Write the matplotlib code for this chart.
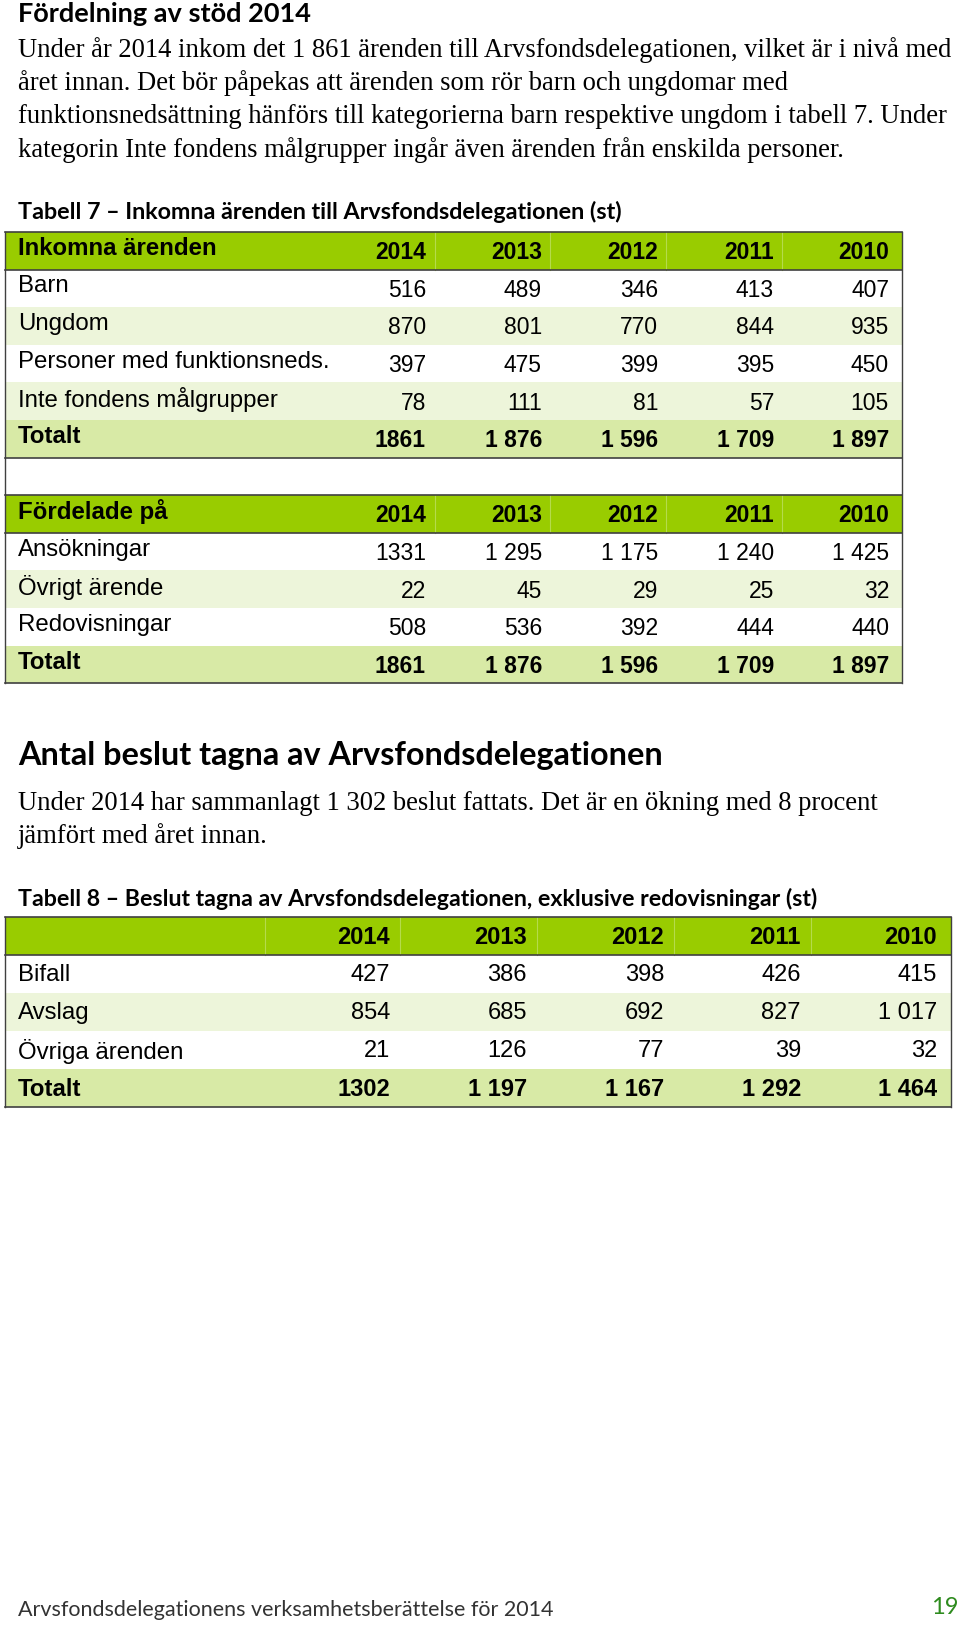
import matplotlib.pyplot as plt
from matplotlib.patches import Rectangle

# Texter
rubrik = 'Fördelning av stöd 2014'
brodtext1 = ['Under år 2014 inkom det 1 861 ärenden till Arvsfondsdelegationen, vilket är i nivå med',
             'året innan. Det bör påpekas att ärenden som rör barn och ungdomar med',
             'funktionsnedsättning hänförs till kategorierna barn respektive ungdom i tabell 7. Under',
             'kategorin Inte fondens målgrupper ingår även ärenden från enskilda personer.']
tabell7_rubrik = 'Tabell 7 – Inkomna ärenden till Arvsfondsdelegationen (st)'
rubrik2 = 'Antal beslut tagna av Arvsfondsdelegationen'
brodtext2 = ['Under 2014 har sammanlagt 1 302 beslut fattats. Det är en ökning med 8 procent',
             'jämfört med året innan.']
tabell8_rubrik = 'Tabell 8 – Beslut tagna av Arvsfondsdelegationen, exklusive redovisningar (st)'
sidfot = 'Arvsfondsdelegationens verksamhetsberättelse för 2014'
sidnummer = '19'

# Data
ar = ['2014', '2013', '2012', '2011', '2010']

t7a_rader = ['Barn', 'Ungdom', 'Personer med funktionsneds.', 'Inte fondens målgrupper', 'Totalt']
t7a_varden = [['516', '489', '346', '413', '407'],
              ['870', '801', '770', '844', '935'],
              ['397', '475', '399', '395', '450'],
              ['78', '111', '81', '57', '105'],
              ['1861', '1 876', '1 596', '1 709', '1 897']]

t7b_rader = ['Ansökningar', 'Övrigt ärende', 'Redovisningar', 'Totalt']
t7b_varden = [['1331', '1 295', '1 175', '1 240', '1 425'],
              ['22', '45', '29', '25', '32'],
              ['508', '536', '392', '444', '440'],
              ['1861', '1 876', '1 596', '1 709', '1 897']]

t8_rader = ['Bifall', 'Avslag', 'Övriga ärenden', 'Totalt']
t8_varden = [['427', '386', '398', '426', '415'],
             ['854', '685', '692', '827', '1 017'],
             ['21', '126', '77', '39', '32'],
             ['1302', '1 197', '1 167', '1 292', '1 464']]

# Färger
GRON = '#99CC00'
RAND = '#EDF5DA'
TOTAL = '#D8EAA6'
KANT = '#404040'

SERIF = 'Liberation Serif'
GILL = 'Lato'
ARIAL = 'Liberation Sans'

fig = plt.figure(figsize=(9.6, 16.25), dpi=100)
ax = fig.add_axes([0, 0, 1, 1])
ax.set_xlim(0, 960)
ax.set_ylim(1625, 0)
ax.axis('off')


def rad(y, h, x0, x1, farg, label, celler, fet=False, kolumner=None, storlek=16.5):
    ax.add_patch(Rectangle((x0, y), x1 - x0, h, facecolor=farg, edgecolor='none', zorder=1))
    w = 'bold' if fet else 'normal'
    if label:
        ax.text(18, y + h / 2 - 2, label, fontsize=17.3, family=ARIAL, weight=w,
                va='center', ha='left', zorder=3)
    for xr, c in zip(kolumner, celler):
        ax.text(xr, y + h / 2 + 2, c, fontsize=storlek, family=ARIAL, weight=w,
                va='center', ha='right', zorder=3)


# Rubrik och brödtext
ax.text(18, 14, rubrik, fontsize=19.5, family=GILL, weight='bold', va='center')
for i, s in enumerate(brodtext1):
    ax.text(18, 50 + i * 33.3, s, fontsize=19.2, family=SERIF, va='center')
ax.text(18, 212, tabell7_rubrik, fontsize=16.8, family=GILL, weight='bold', va='center')

# Tabell 7
x0, x1 = 5, 902
top = 232
h = 37.6
kol7 = [426, 542, 658, 774, 889]
delning7 = [435, 550, 666, 782]

ordning = [('head', 'Inkomna ärenden', ar)]
for i, (r, v) in enumerate(zip(t7a_rader, t7a_varden)):
    ordning.append(('tot' if r == 'Totalt' else ('rand' if i % 2 else 'vit'), r, v))
ordning.append(('vit', '', ['', '', '', '', '']))
ordning.append(('head', 'Fördelade på', ar))
for i, (r, v) in enumerate(zip(t7b_rader, t7b_varden)):
    ordning.append(('tot' if r == 'Totalt' else ('rand' if i % 2 else 'vit'), r, v))

farger = {'head': GRON, 'rand': RAND, 'tot': TOTAL, 'vit': 'white'}
for i, (typ, lab, cel) in enumerate(ordning):
    y = top + i * h
    rad(y, h, x0, x1, farger[typ], lab, cel, fet=typ in ('head', 'tot'), kolumner=kol7)
    if typ == 'head':
        for xd in delning7:
            ax.plot([xd, xd], [y, y + h], color='#B5DB4C', lw=0.8, zorder=2)
        ax.plot([x0, x1], [y, y], color=KANT, lw=1.2, zorder=4)
        ax.plot([x0, x1], [y + h, y + h], color=KANT, lw=1.2, zorder=4)
    if typ == 'tot':
        ax.plot([x0, x1], [y + h, y + h], color=KANT, lw=1.2, zorder=4)
bot7 = top + len(ordning) * h
ax.plot([x0, x0], [top, bot7], color=KANT, lw=1.0, zorder=4)
ax.plot([x1, x1], [top, bot7], color=KANT, lw=1.0, zorder=4)

# Avsnitt 2
ax.text(18, 755, rubrik2, fontsize=23.3, family=GILL, weight='bold', va='center')
for i, s in enumerate(brodtext2):
    ax.text(18, 803 + i * 33.3, s, fontsize=19.2, family=SERIF, va='center')
ax.text(18, 899, tabell8_rubrik, fontsize=16.7, family=GILL, weight='bold', va='center')

# Tabell 8
x0, x1 = 5, 951
top = 917
h = 38
kol8 = [390, 527, 664, 801, 937]
delning8 = [265, 400, 537, 674, 811]
rader8 = [('head', '', ar)]
for i, (r, v) in enumerate(zip(t8_rader, t8_varden)):
    rader8.append(('tot' if r == 'Totalt' else ('rand' if i % 2 else 'vit'), r, v))
for i, (typ, lab, cel) in enumerate(rader8):
    y = top + i * h
    fet = typ in ('head', 'tot')
    ax.add_patch(Rectangle((x0, y), x1 - x0, h, facecolor=farger[typ], edgecolor='none', zorder=1))
    if lab:
        ax.text(18, y + h / 2 + 1, lab, fontsize=17.3, family=ARIAL, weight='bold' if fet else 'normal',
                va='center', ha='left', zorder=3)
    for xr, c in zip(kol8, cel):
        ax.text(xr, y + h / 2 + 1, c, fontsize=17, family=ARIAL, weight='bold' if fet else 'normal',
                va='center', ha='right', zorder=3)
    if typ == 'head':
        for xd in delning8:
            ax.plot([xd, xd], [y, y + h], color='#B5DB4C', lw=0.8, zorder=2)
        ax.plot([x0, x1], [y, y], color=KANT, lw=1.2, zorder=4)
        ax.plot([x0, x1], [y + h, y + h], color=KANT, lw=1.2, zorder=4)
bot8 = top + len(rader8) * h
ax.plot([x0, x1], [bot8, bot8], color=KANT, lw=1.2, zorder=4)
ax.plot([x0, x0], [top, bot8], color=KANT, lw=1.0, zorder=4)
ax.plot([x1, x1], [top, bot8], color=KANT, lw=1.0, zorder=4)

# Sidfot
ax.text(18, 1610, sidfot, fontsize=15.5, family=GILL, weight='normal', va='center', color='#333333')
ax.text(959, 1608, sidnummer, fontsize=17, family=GILL, va='center', ha='right', color='#2E8B1E')

plt.savefig('out.png', dpi=100)
